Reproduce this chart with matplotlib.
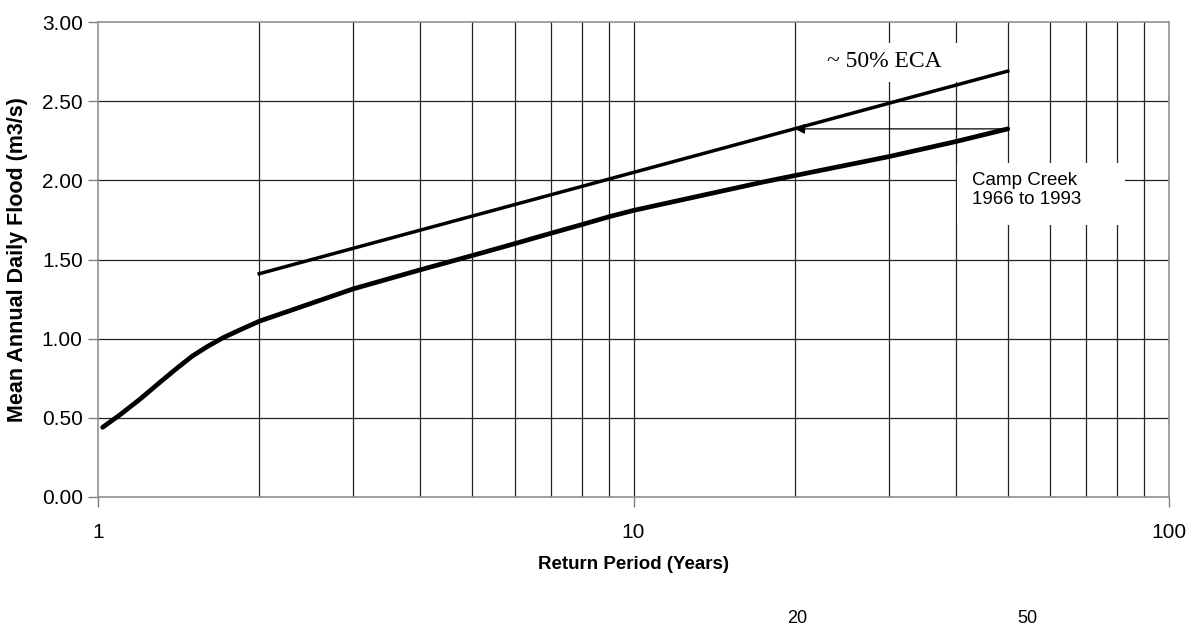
import matplotlib
matplotlib.use("Agg")
import matplotlib.pyplot as plt
from matplotlib.patches import Rectangle
from matplotlib.ticker import FixedLocator, NullFormatter, FixedFormatter

plt.rcParams['font.family'] = ['Liberation Sans', 'DejaVu Sans']

# Camp Creek 1966 to 1993 frequency curve
camp_period = [1.02, 1.10, 1.20, 1.29, 1.40, 1.50, 1.60, 1.71, 1.84, 2, 3, 4,
               5, 6, 7, 8, 9, 10, 17.5, 20, 30, 40, 50]
camp_flow = [0.44, 0.52, 0.62, 0.71, 0.81, 0.89, 0.95, 1.005, 1.055, 1.11, 1.315, 1.435,
             1.525, 1.60, 1.665, 1.72, 1.77, 1.81, 1.99, 2.03, 2.15, 2.245, 2.325]

# ~50% ECA curve
eca_period = [2, 50]
eca_flow = [1.41, 2.69]

# arrow: from end of Camp Creek curve across to the ECA curve
arrow_from = (50, 2.325)
arrow_to = (20, 2.325)

y_ticks = [0.0, 0.5, 1.0, 1.5, 2.0, 2.5, 3.0]
x_major = [1, 10, 100]
x_minor = [2, 3, 4, 5, 6, 7, 8, 9, 20, 30, 40, 50, 60, 70, 80, 90]

fig = plt.figure(figsize=(11.88, 6.25), dpi=100)
ax = fig.add_axes([98 / 1188, 128 / 625, (1169 - 98) / 1188, (497 - 22) / 625])

ax.set_xscale('log')
ax.set_xlim(1, 100)
ax.set_ylim(0, 3)

# grid
for xv in x_minor + [10]:
    ax.axvline(xv, color='#222222', lw=0.9, zorder=1)
for yv in y_ticks[1:-1]:
    ax.axhline(yv, color='#222222', lw=0.9, zorder=1)

ax.plot(camp_period, camp_flow, color='black', lw=3.4, solid_capstyle='round',
        solid_joinstyle='round', zorder=3)
ax.plot(eca_period, eca_flow, color='black', lw=2.5, zorder=3)

ax.annotate('', xy=arrow_to, xytext=arrow_from,
            arrowprops=dict(arrowstyle='-|>', color='black', lw=0.9,
                            mutation_scale=15, shrinkA=0, shrinkB=0),
            zorder=4)

# white text boxes (Excel style) that hide the grid behind the labels
ax.add_patch(Rectangle((0.669, 0.874), 0.14, 0.082, transform=ax.transAxes,
                       fc='white', ec='none', zorder=2))
ax.add_patch(Rectangle((0.802, 0.5726), 0.157, 0.131, transform=ax.transAxes,
                       fc='white', ec='none', zorder=2))

ax.text(29.4, 2.75, '~ 50% ECA', family='Liberation Serif', fontsize=17,
        ha='center', va='center', zorder=5)
ax.text(42.9, 1.94, 'Camp Creek\n1966 to 1993', fontsize=13.5, linespacing=1.15,
        ha='left', va='center', zorder=5)

ax.xaxis.set_major_locator(FixedLocator(x_major))
ax.xaxis.set_major_formatter(FixedFormatter(['1', '10', '100']))
ax.xaxis.set_minor_locator(FixedLocator(x_minor))
ax.xaxis.set_minor_formatter(NullFormatter())
ax.set_yticks(y_ticks)
ax.set_yticklabels(['%.2f' % v for v in y_ticks])

ax.tick_params(axis='both', which='major', direction='out', length=7, width=1,
               color='#808080', labelsize=15, pad=4)
ax.tick_params(axis='x', which='major', pad=12)
ax.tick_params(axis='x', which='minor', length=0)

for s in ax.spines.values():
    s.set_color('#909090')
    s.set_linewidth(1.2)

ax.set_xlabel('Return Period (Years)', fontsize=13.5, fontweight='bold', labelpad=10)
ax.set_ylabel('Mean Annual Daily Flood (m3/s)', fontsize=15.5, fontweight='bold', labelpad=10)

# stray labels below the chart
fig.text(797 / 1188, 15 / 625, '20', fontsize=13, ha='center', va='top')
fig.text(1027 / 1188, 15 / 625, '50', fontsize=13, ha='center', va='top')

fig.savefig('out.png', dpi=100)
